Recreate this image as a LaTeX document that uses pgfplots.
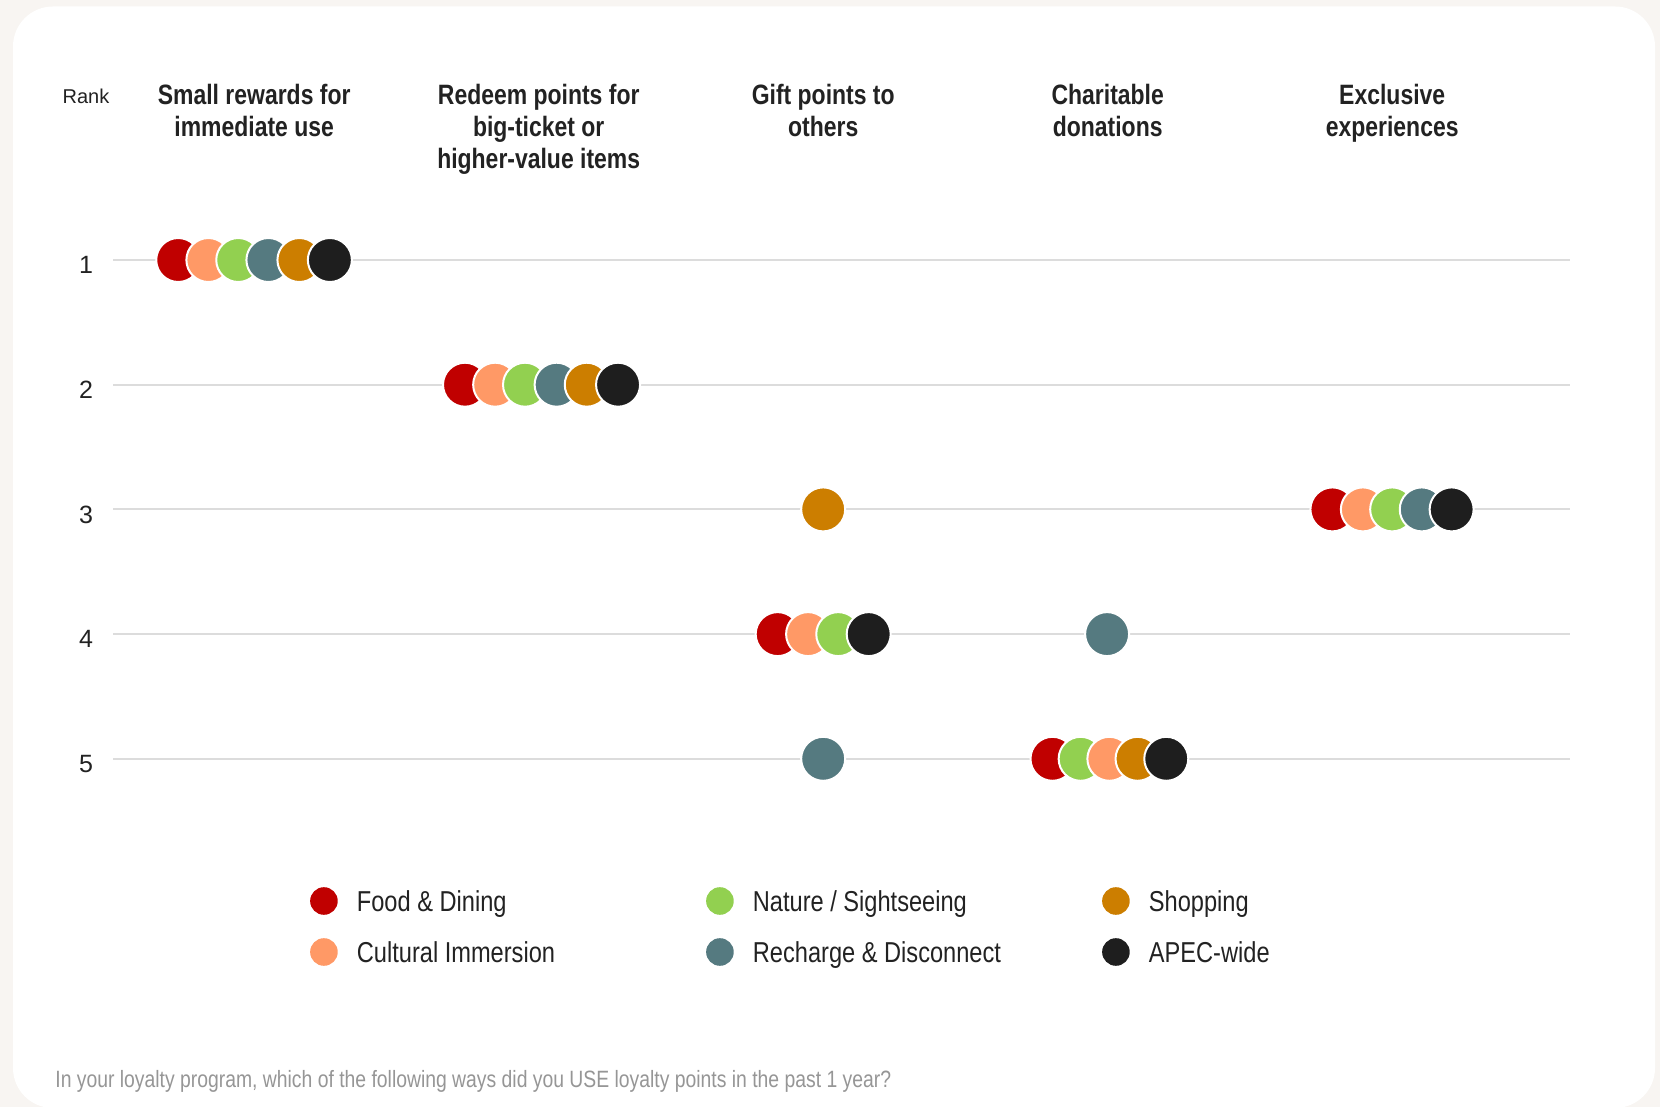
\documentclass[border=0pt]{standalone}
\usepackage{fontspec}
\setmainfont{Liberation Sans}
\newfontfamily\condfont[FakeStretch=0.82]{Liberation Sans}
\usepackage{pgfplots}
\pgfplotsset{compat=1.18}
\definecolor{pagebg}{RGB}{248,245,242}
\definecolor{cfood}{RGB}{192,0,0}
\definecolor{ccult}{RGB}{255,153,102}
\definecolor{cnat}{RGB}{146,208,80}
\definecolor{crech}{RGB}{85,122,128}
\definecolor{cshop}{RGB}{204,126,0}
\definecolor{capec}{RGB}{30,30,30}
\definecolor{gridc}{RGB}{220,220,220}
\definecolor{txt}{RGB}{34,34,34}
\definecolor{foot}{RGB}{150,150,150}
\pgfplotsset{
  dot/.style={only marks, mark=*, mark size=11pt, color=#1, mark options={draw=white, line width=1pt}, forget plot},
  legdot/.style={legend image code/.code={\path[draw=none,fill=none] (0pt,-7pt) rectangle (23.4pt,7pt); \fill[#1,draw=none] (6.9pt,0pt) circle (6.9pt);}}
}
\begin{document}
\begin{tikzpicture}[x=0.5pt,y=0.5pt]
\fill[pagebg] (0,0) rectangle (1660,1107);
\fill[white, rounded corners=20pt] (13,-1) rectangle (1655,1100.5);
\begin{axis}[
  at={(420.75pt,298.8pt)}, anchor=center,
  scale only axis, width=728.5pt, height=311.75pt,
  xmin=-0.4963, xmax=4.6251, ymin=0.5, ymax=5.5, y dir=reverse,
  axis line style={draw=none}, xtick=\empty,
  ytick={1,2,3,4,5}, yticklabels={1,2,3,4,5},
  major tick length=0pt,
  ymajorgrids, grid style={gridc, line width=1pt},
  yticklabel style={anchor=center, xshift=-13.5pt, yshift=-2.5pt, font=\fontsize{12.5}{14}\selectfont, text=txt},
  clip=false,
  legend columns=3,
  legend style={at={(axis description cs:0.1353,-0.1056)}, anchor=north west, draw=none, fill=none,
    inner sep=0pt, outer sep=0pt, column sep=0pt, row sep=11.5pt,
    nodes={inner sep=0pt, text depth=0pt, font=\condfont\fontsize{14.4}{16}\selectfont, text=txt},
    cells={anchor=west}},
]
\addplot[dot=cfood] coordinates {(-0.267,1) (0.741,2) (1.840,4) (2.806,5) (3.790,3)};
\addplot[dot=ccult] coordinates {(-0.161,1) (0.847,2) (1.947,4) (3.897,3)};
\addplot[dot=cnat] coordinates {(-0.056,1) (0.952,2) (2.053,4) (2.905,5) (4.000,3)};
\addplot[dot=ccult] coordinates {(3.006,5)};
\addplot[dot=crech] coordinates {(0.050,1) (1.063,2) (2.000,5) (2.998,4) (4.104,3)};
\addplot[dot=cshop] coordinates {(0.159,1) (1.169,2) (2.000,3) (3.105,5)};
\addplot[dot=capec] coordinates {(0.266,1) (1.279,2) (2.160,4) (3.206,5) (4.209,3)};
\addlegendimage{legdot=cfood}\addlegendentry{\makebox[174.6pt][l]{Food \& Dining}}
\addlegendimage{legdot=cnat}\addlegendentry{\makebox[174.6pt][l]{Nature / Sightseeing}}
\addlegendimage{legdot=cshop}\addlegendentry{\makebox[174.6pt][l]{Shopping}}
\addlegendimage{legdot=ccult}\addlegendentry{\makebox[174.6pt][l]{Cultural Immersion}}
\addlegendimage{legdot=crech}\addlegendentry{\makebox[174.6pt][l]{Recharge \& Disconnect}}
\addlegendimage{legdot=capec}\addlegendentry{\makebox[174.6pt][l]{APEC-wide}}
\end{axis}
\tikzset{hdr/.style={anchor=base, inner sep=0pt, text=txt, font=\condfont\bfseries\fontsize{14}{16}\selectfont}}
\node[hdr] at (254.2,1002) {Small rewards for};
\node[hdr] at (254.2,970.3) {immediate use};
\node[hdr] at (538.7,1002) {Redeem points for};
\node[hdr] at (538.7,970.3) {big-ticket or};
\node[hdr] at (538.7,938.6) {higher-value items};
\node[hdr] at (823.2,1002) {Gift points to};
\node[hdr] at (823.2,970.3) {others};
\node[hdr] at (1107.7,1002) {Charitable};
\node[hdr] at (1107.7,970.3) {donations};
\node[hdr] at (1392.2,1002) {Exclusive};
\node[hdr] at (1392.2,970.3) {experiences};
\node[anchor=base, inner sep=0pt, text=txt, font=\fontsize{10}{12}\selectfont] at (86,1003) {Rank};
\node[anchor=west, inner sep=0pt, text=foot, font=\condfont\fontsize{11.8}{13}\selectfont] at (55,26) {In your loyalty program, which of the following ways did you USE loyalty points in the past 1 year?};
\end{tikzpicture}
\end{document}
